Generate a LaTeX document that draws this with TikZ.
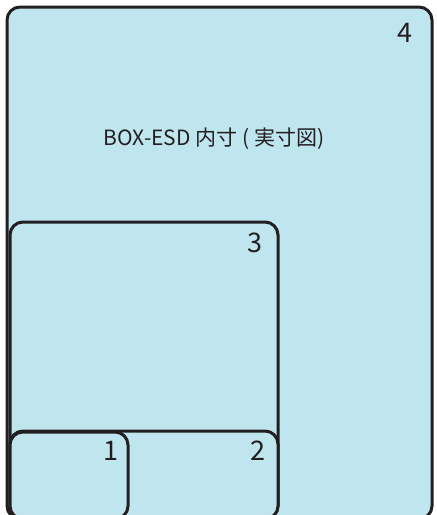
\documentclass[tikz,border=0pt]{standalone}
\usepackage{fontspec}
\setmainfont{Noto Sans CJK JP}
\definecolor{boxblue}{RGB}{191,230,239}
\definecolor{boxline}{RGB}{35,31,32}

\begin{document}
\begin{tikzpicture}[x=1pt, y=-1pt,
    box/.style={draw=boxline, fill=boxblue, line width=3pt, rounded corners=13pt},
    num/.style={text=boxline, font=\fontsize{27}{30}\selectfont, inner sep=0pt}]
    \useasboundingbox (0,0) rectangle (437,515);
    \clip (0,0) rectangle (437,515);
    \draw[box] (7,7) rectangle (432,519); % 4
    \draw[box] (10,222) rectangle (278,519); % 3
    \draw[box] (10,431) rectangle (278,519); % 2
    \draw[box] (10,432) rectangle (128,519); % 1
    \node[num] (four) at (405,33) {4};
    \node[num] (three) at (255,243) {3};
    \node[num] (two) at (258,451) {2};
    \node[num] (one) at (111,451) {1};
    \node[text=boxline, font=\fontsize{21}{24}\selectfont, inner sep=0pt] (title) at (214,139) {BOX-ESD 内寸 ( 実寸図)};
\end{tikzpicture}
\end{document}
